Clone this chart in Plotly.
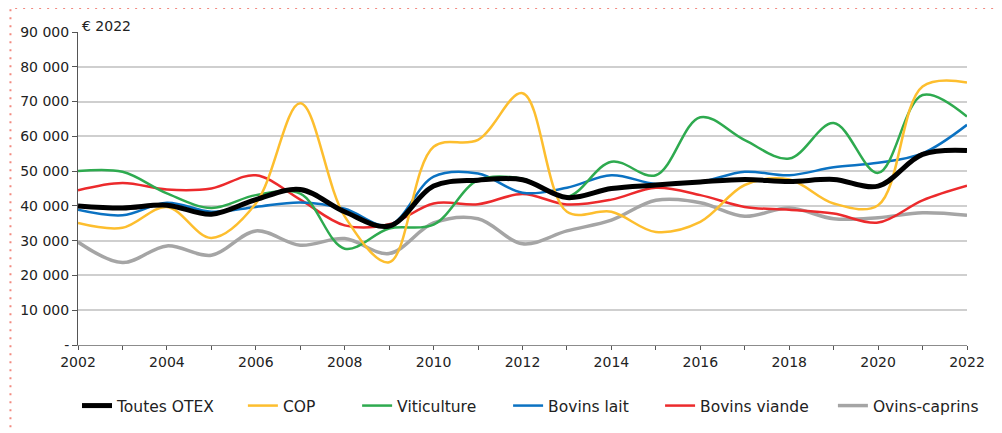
import plotly.graph_objects as go

years = list(range(2002, 2023))

toutes_otex = [40000, 39400, 40200, 37600, 41800, 44700, 38300, 34200, 45700, 47400, 47500,
               42400, 45000, 46000, 46900, 47600, 47000, 47600, 45700, 54800, 55900]
cop = [35100, 33700, 39700, 30800, 40700, 69500, 37000, 23800, 57000, 59000, 72400,
       38300, 38300, 32500, 35400, 46000, 47600, 40700, 40200, 74300, 75500]
viticulture = [50000, 49800, 43600, 39400, 43100, 43500, 27700, 33500, 34600, 47400, 47800,
               42600, 52700, 48800, 65500, 58900, 53600, 63800, 49500, 71900, 65700]
bovins_lait = [38900, 37300, 40900, 38300, 39700, 41000, 39200, 34400, 48400, 49300, 43800,
               45200, 48800, 46300, 46900, 49800, 48800, 51100, 52400, 55100, 63300]
bovins_viande = [44500, 46600, 44700, 45000, 48800, 41800, 34400, 34700, 40700, 40500, 43400,
                 40400, 41800, 45200, 43100, 39700, 38900, 37800, 35200, 41600, 45800]
ovins_caprins = [29600, 23700, 28500, 25800, 32800, 28700, 30600, 26300, 35100, 36300, 29100,
                 32800, 35900, 41600, 40900, 37000, 39400, 36300, 36600, 38000, 37300]

series_names = ["Toutes OTEX", "COP", "Viticulture", "Bovins lait", "Bovins viande", "Ovins-caprins"]
series_values = [toutes_otex, cop, viticulture, bovins_lait, bovins_viande, ovins_caprins]
series_colors = ["#000000", "#FDBE2E", "#2EAA4F", "#0B72C2", "#EC2A2C", "#A5A5A5"]
series_widths = [5, 2.5, 2.5, 2.5, 2.5, 3.5]

y_tickvals = [0, 10000, 20000, 30000, 40000, 50000, 60000, 70000, 80000, 90000]
y_ticktext = ["-", "10 000", "20 000", "30 000", "40 000", "50 000", "60 000", "70 000", "80 000", "90 000"]
x_ticktext = [str(y) if y % 2 == 0 else "" for y in years]

# page body margin offset (8px) compensation
OFF = 8
W, H = 1002, 433
L, T = 72 - OFF, 32 - OFF
R = W - (967 - OFF)
B = H - (345 - OFF)
pw, ph = W - L - R, H - T - B

def px_x(x):
    return (x - OFF - L) / pw

def px_y(y):
    return (H - B - (y - OFF)) / ph

FONT = "DejaVu Sans"
TXT = "#222222"

fig = go.Figure()
legend_text_x = [113, 280, 395, 547, 700, 874]
order = [5, 4, 3, 2, 1, 0]  # draw black on top
for i in order:
    fig.add_trace(go.Scatter(
        x=years, y=series_values[i], name=series_names[i], mode="lines",
        line=dict(color=series_colors[i], width=series_widths[i], shape="spline", smoothing=1.0),
        legend="legend" if i == 0 else f"legend{i+1}",
        hoverinfo="x+y+name",
    ))

layout_legends = {}
for i in range(6):
    key = "legend" if i == 0 else f"legend{i+1}"
    layout_legends[key] = dict(
        x=px_x(legend_text_x[i] - 42), xanchor="left",
        y=px_y(406), yanchor="middle",
        orientation="h", bgcolor="rgba(0,0,0,0)", borderwidth=0,
        font=dict(family=FONT, size=15.5, color=TXT),
        itemwidth=30,
    )

fig.update_layout(
    width=W, height=H,
    margin=dict(l=L, r=R, t=T, b=B),
    paper_bgcolor="white", plot_bgcolor="white",
    font=dict(family=FONT, size=14, color=TXT),
    showlegend=True,
    **layout_legends,
)

fig.update_xaxes(
    range=[2002, 2022], tickvals=years, ticktext=x_ticktext,
    ticks="outside", ticklen=4, tickcolor="#555555", tickwidth=1,
    showline=True, linecolor="#8C8C8C", linewidth=1.2,
    showgrid=False, zeroline=False,
    tickfont=dict(family=FONT, size=14, color=TXT),
)
fig.update_yaxes(
    range=[0, 90000], tickvals=y_tickvals, ticktext=y_ticktext,
    ticks="outside", ticklen=5, tickcolor="#555555", tickwidth=1,
    showline=True, linecolor="#555555", linewidth=1,
    showgrid=True, gridcolor="#CFCFCF", gridwidth=1.5,
    zeroline=False,
    tickfont=dict(family=FONT, size=14, color=TXT),
)

fig.add_annotation(
    text="€ 2022", xref="paper", yref="paper",
    x=px_x(74), y=px_y(26), xanchor="left", yanchor="middle",
    showarrow=False, font=dict(family=FONT, size=14, color=TXT),
)

# dotted frame
fig.add_shape(
    type="rect", xref="paper", yref="paper",
    x0=px_x(4), x1=px_x(998), y0=px_y(560), y1=px_y(8),
    line=dict(color="#F28A80", width=2, dash="2px,6px"), fillcolor="rgba(0,0,0,0)", layer="below",
)

fig.write_html("out.html")
